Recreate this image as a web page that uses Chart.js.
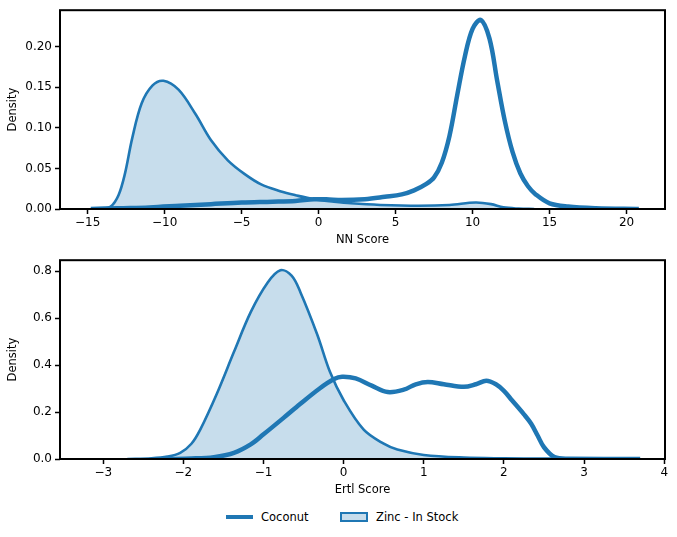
<!DOCTYPE html>
<html>
<head>
<meta charset="utf-8">
<script src="https://cdn.jsdelivr.net/npm/chart.js@4.4.1/dist/chart.umd.min.js"></script>
<style>
    body { margin: 0; background: #fff; font-family: "DejaVu Sans", sans-serif; }
    #wrap { position: relative; width: 677px; height: 537px; }
    .panel { position: absolute; left: 0; width: 677px; height: 250px; }
    #legend { position: absolute; left: 0; top: 506px; width: 677px; height: 22px; font-size: 11.5px; color: #000; }
    .item { position: absolute; top: 4px; line-height: 14px; }
    .line { position: absolute; width: 27px; height: 4px; background: #1f77b4; top: 9px; }
    .patch { position: absolute; width: 24px; height: 6px; background: rgba(31,119,180,0.25); border: 2px solid #1f77b4; top: 6px; }
</style>
</head>
<body>
<div id="wrap">
    <div class="panel" style="top:0"><canvas id="nnChart" width="677" height="250"></canvas></div>
    <div class="panel" style="top:250px"><canvas id="ertlChart" width="677" height="250"></canvas></div>
    <div id="legend">
        <div class="line" style="left:226px"></div>
        <div class="item" style="left:261px">Coconut</div>
        <div class="patch" style="left:340px"></div>
        <div class="item" style="left:376px">Zinc - In Stock</div>
    </div>
</div>
<script>
// NN Score densities
let nnCoconutX = [-14.8, -13, -11, -9, -7, -5, -3, -1.5, -0.3, 0.5, 1.5, 3, 4.3, 5.4, 6.2, 7, 7.5, 8, 8.5, 9, 9.5, 10, 10.54, 11.1, 11.6, 12.1, 12.6, 13.1, 13.6, 14.1, 15, 16.2, 18, 20.8];
let nnCoconutY = [0, 0.001, 0.002, 0.004, 0.006, 0.008, 0.009, 0.010, 0.012, 0.012, 0.011, 0.012, 0.015, 0.018, 0.023, 0.031, 0.039, 0.057, 0.090, 0.140, 0.188, 0.222, 0.233, 0.210, 0.158, 0.108, 0.070, 0.044, 0.028, 0.018, 0.007, 0.003, 0.001, 0];
let nnZincX = [-14.7, -14, -13.5, -13, -12.6, -12.1, -11.5, -10.8, -10.08, -9.1, -8.0, -7.0, -5.9, -4.8, -3.7, -2.5, -1.5, -0.3, 1, 2.1, 4, 6.5, 8.5, 10.2, 11.2, 12, 13, 14];
let nnZincY = [0, 0.0005, 0.003, 0.017, 0.042, 0.088, 0.130, 0.152, 0.158, 0.147, 0.117, 0.085, 0.060, 0.043, 0.030, 0.022, 0.017, 0.012, 0.009, 0.007, 0.005, 0.004, 0.005, 0.008, 0.006, 0.002, 0.0005, 0];
let nnXTicks = [-15, -10, -5, 0, 5, 10, 15, 20];
let nnYTicks = [0, 0.05, 0.10, 0.15, 0.20];

// Ertl Score densities
let ertlCoconutX = [-2.2, -1.9, -1.62, -1.37, -1.16, -1.0, -0.75, -0.54, -0.3, -0.12, -0.02, 0.15, 0.35, 0.55, 0.75, 0.9, 1.05, 1.25, 1.5, 1.65, 1.78, 1.9, 2.0, 2.1, 2.25, 2.34, 2.42, 2.5, 2.63, 2.8, 3.7];
let ertlCoconutY = [0, 0.002, 0.008, 0.026, 0.062, 0.105, 0.175, 0.235, 0.30, 0.34, 0.35, 0.343, 0.312, 0.285, 0.295, 0.318, 0.328, 0.318, 0.307, 0.318, 0.333, 0.318, 0.29, 0.25, 0.19, 0.15, 0.10, 0.05, 0.008, 0.001, 0];
let ertlZincX = [-2.7, -2.4, -2.2, -2.04, -1.9, -1.79, -1.58, -1.37, -1.16, -0.95, -0.79, -0.65, -0.54, -0.33, -0.17, 0, 0.25, 0.5, 0.67, 1.0, 1.5, 2, 2.5, 3, 3.7];
let ertlZincY = [0, 0.003, 0.01, 0.026, 0.065, 0.125, 0.28, 0.455, 0.625, 0.75, 0.803, 0.78, 0.71, 0.53, 0.37, 0.25, 0.125, 0.065, 0.04, 0.017, 0.006, 0.003, 0.002, 0.001, 0];
let ertlXTicks = [-3, -2, -1, 0, 1, 2, 3, 4];
let ertlYTicks = [0, 0.2, 0.4, 0.6, 0.8];

const blue = '#1f77b4';
const fillBlue = 'rgba(31, 119, 180, 0.25)';
const fontFam = "'DejaVu Sans', sans-serif";

function pts(xs, ys) {
    return xs.map((x, i) => ({ x: x, y: ys[i] }));
}

function minus(v) {
    return v < 0 ? '\u2212' + Math.abs(v) : String(v);
}

// frame around the plotting area (matplotlib style spines)
const framePlugin = {
    id: 'frame',
    afterDatasetsDraw(chart) {
        const a = chart.chartArea;
        const ctx = chart.ctx;
        ctx.save();
        ctx.strokeStyle = '#000';
        ctx.lineWidth = 2;
        ctx.strokeRect(a.left, a.top, a.right - a.left, a.bottom - a.top);
        ctx.restore();
    }
};

function makeChart(id, coco, zinc, xr, yr, xTicks, yTicks, xTitle, yDecimals) {
    let ctx = document.getElementById(id).getContext('2d');
    return new Chart(ctx, {
        type: 'line',
        data: {
            datasets: [{
                label: 'Zinc - In Stock',
                data: zinc,
                borderColor: blue,
                backgroundColor: fillBlue,
                borderWidth: 2.6,
                fill: 'origin',
                pointRadius: 0,
                tension: 0.35,
                order: 1
            }, {
                label: 'Coconut',
                data: coco,
                borderColor: blue,
                borderWidth: 4.5,
                fill: false,
                pointRadius: 0,
                tension: 0.35,
                order: 2
            }]
        },
        options: {
            responsive: false,
            animation: false,
            devicePixelRatio: 1,
            layout: { padding: { top: 8, right: 12, left: 0, bottom: 0 } },
            plugins: { legend: { display: false }, tooltip: { enabled: false } },
            scales: {
                x: {
                    type: 'linear',
                    min: xr[0],
                    max: xr[1],
                    afterBuildTicks: s => { s.ticks = xTicks.map(v => ({ value: v })); },
                    afterFit: s => { s.height = 41; },
                    grid: { drawOnChartArea: false, drawTicks: true, tickLength: 5, tickWidth: 1.5, tickColor: '#000' },
                    border: { display: false },
                    ticks: { color: '#000', padding: 2, maxRotation: 0, font: { family: fontFam, size: 12 }, callback: v => minus(v) },
                    title: { display: true, text: xTitle, color: '#000', padding: { top: 0, bottom: 3 }, font: { family: fontFam, size: 11.5 } }
                },
                y: {
                    type: 'linear',
                    min: yr[0],
                    max: yr[1],
                    afterBuildTicks: s => { s.ticks = yTicks.map(v => ({ value: v })); },
                    afterFit: s => { s.width = 60; },
                    grid: { drawOnChartArea: false, drawTicks: true, tickLength: 5, tickWidth: 1.5, tickColor: '#000' },
                    border: { display: false },
                    ticks: { color: '#000', padding: 3, font: { family: fontFam, size: 12 }, callback: v => v.toFixed(yDecimals) },
                    title: { display: true, text: 'Density', color: '#000', padding: { top: 6, bottom: 0 }, font: { family: fontFam, size: 11.5 } }
                }
            }
        },
        plugins: [framePlugin]
    });
}

makeChart('nnChart', pts(nnCoconutX, nnCoconutY), pts(nnZincX, nnZincY), [-16.8, 22.5], [0, 0.245], nnXTicks, nnYTicks, 'NN Score', 2);
makeChart('ertlChart', pts(ertlCoconutX, ertlCoconutY), pts(ertlZincX, ertlZincY), [-3.54, 4.01], [0, 0.846], ertlXTicks, ertlYTicks, 'Ertl Score', 1);
</script>
</body>
</html>
